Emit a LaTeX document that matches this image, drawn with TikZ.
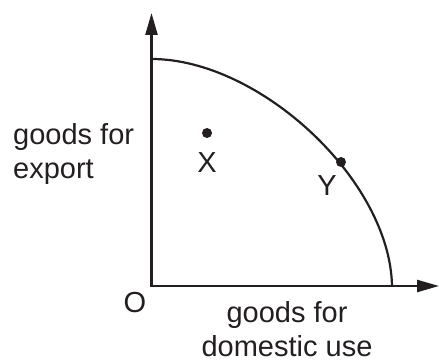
\documentclass[tikz,border=0pt]{standalone}
\usepackage{fontspec}
\setmainfont{Liberation Sans}
\usetikzlibrary{arrows.meta}
\definecolor{ink}{HTML}{231F20}
\tikzset{
  axis/.style={line width=2.4pt, draw=ink, -{Triangle[length=22pt,width=12pt]}},
  ppf/.style={line width=2.2pt, draw=ink},
  lbl/.style={font=\fontsize{29}{34}\selectfont, text=ink, inner sep=0pt},
  pt/.style={circle, fill=ink, minimum size=10pt, inner sep=0pt}
}
\begin{document}
\begin{tikzpicture}[x=1pt,y=-1pt]
\useasboundingbox (0,0) rectangle (439,361);
\coordinate (O) at (151.5,286);
\coordinate (ytop) at (151.5,13);
\coordinate (xend) at (439,286);
\coordinate (A) at (151.5,59);
\coordinate (B) at (392,286);
\draw[ppf] (A) .. controls (259.5,59) and (390,180) .. (B);
\draw[axis, line cap=rect] (O) -- (ytop);
\draw[axis, line cap=rect] (O) -- (xend);
\node[pt] (px) at (207,133) {};
\node[pt] (py) at (341,162) {};
\node[lbl] (lx) at (207,163) {X};
\node[lbl] (ly) at (327,186) {Y};
\node[lbl] (lo) at (135,303) {O};
\node[lbl, align=left, anchor=west] (ylab) at (13,154.5) {goods for\\export};
\node[lbl, align=center] (xlab) at (287,329) {goods for\\domestic use};
\end{tikzpicture}
\end{document}
